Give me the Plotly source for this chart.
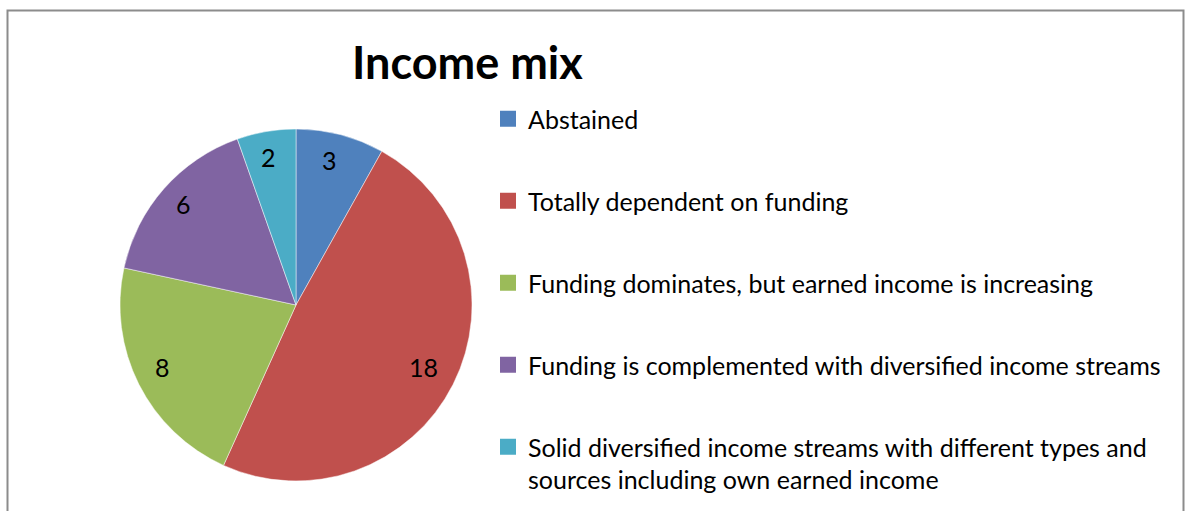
import math
import plotly.graph_objects as go

# Income mix survey results
categories = [
    "Abstained",
    "Totally dependent on funding",
    "Funding dominates, but earned income is increasing",
    "Funding is complemented with diversified income streams",
    "Solid diversified income streams with different types and<br>sources including own earned income",
]
counts = [3, 18, 8, 6, 2]
colors = ["#4F81BD", "#C0504D", "#9BBB59", "#8064A2", "#4BACC6"]

W, H = 1186, 511
FONT = "Lato, Calibri, Carlito, sans-serif"

# pie geometry in pixels
cx, cy, R = 296, 305, 176
dom_x = [(cx - R) / W, (cx + R) / W]
dom_y = [(H - (cy + R)) / H, (H - (cy - R)) / H]

fig = go.Figure()
fig.add_trace(go.Pie(
    labels=categories,
    values=counts,
    sort=False,
    direction="clockwise",
    rotation=0,
    marker=dict(colors=colors, line=dict(color="rgba(255,255,255,0.6)", width=0.8)),
    textinfo="none",
    hoverinfo="label+value",
    domain=dict(x=dom_x, y=dom_y),
    showlegend=False,
))

# legend entries (one group each so the gap can be set)
for name, col in zip(categories, colors):
    fig.add_trace(go.Scatter(
        x=[None], y=[None], mode="markers", name=name, legendgroup=name,
        marker=dict(symbol="square", size=16, color=col),
        showlegend=True,
    ))

# value labels on the slices, placed along each slice's mid-angle
total = sum(counts)
cum = 0
for v in counts:
    frac = (cum + v / 2) / total
    ang = math.radians(90 - 360 * frac)
    px = cx - 3 + 0.83 * R * math.cos(ang)
    py = cy - 4 - 0.83 * R * math.sin(ang)
    fig.add_annotation(
        x=px / W, y=(H - py) / H, xref="paper", yref="paper",
        text=str(v), showarrow=False,
        font=dict(family=FONT, size=25, color="#000000"),
        xanchor="center", yanchor="middle",
    )
    cum += v

# chart title
fig.add_annotation(
    x=467 / W, y=(H - 62) / H, xref="paper", yref="paper",
    text="<b>Income mix</b>", showarrow=False,
    font=dict(family=FONT, size=45, color="#000000"),
    xanchor="center", yanchor="middle",
)

# chart area frame
fig.add_shape(
    type="rect", xref="paper", yref="paper",
    x0=7.5 / W, x1=1183.5 / W, y0=-0.05, y1=(H - 10.5) / H,
    line=dict(color="#8C8C8C", width=2), fillcolor="rgba(0,0,0,0)",
    layer="below",
)

fig.update_layout(
    width=W, height=H,
    margin=dict(l=0, r=0, t=0, b=0),
    paper_bgcolor="white", plot_bgcolor="white",
    xaxis=dict(visible=False), yaxis=dict(visible=False),
    font=dict(family=FONT, size=25, color="#000000"),
    legend=dict(
        x=488 / W, y=(H - 96) / H, xanchor="left", yanchor="top",
        tracegroupgap=46.5, valign="top",
        font=dict(family=FONT, size=25, color="#000000"),
        bgcolor="rgba(0,0,0,0)",
    ),
)

fig.write_html("out.html")
